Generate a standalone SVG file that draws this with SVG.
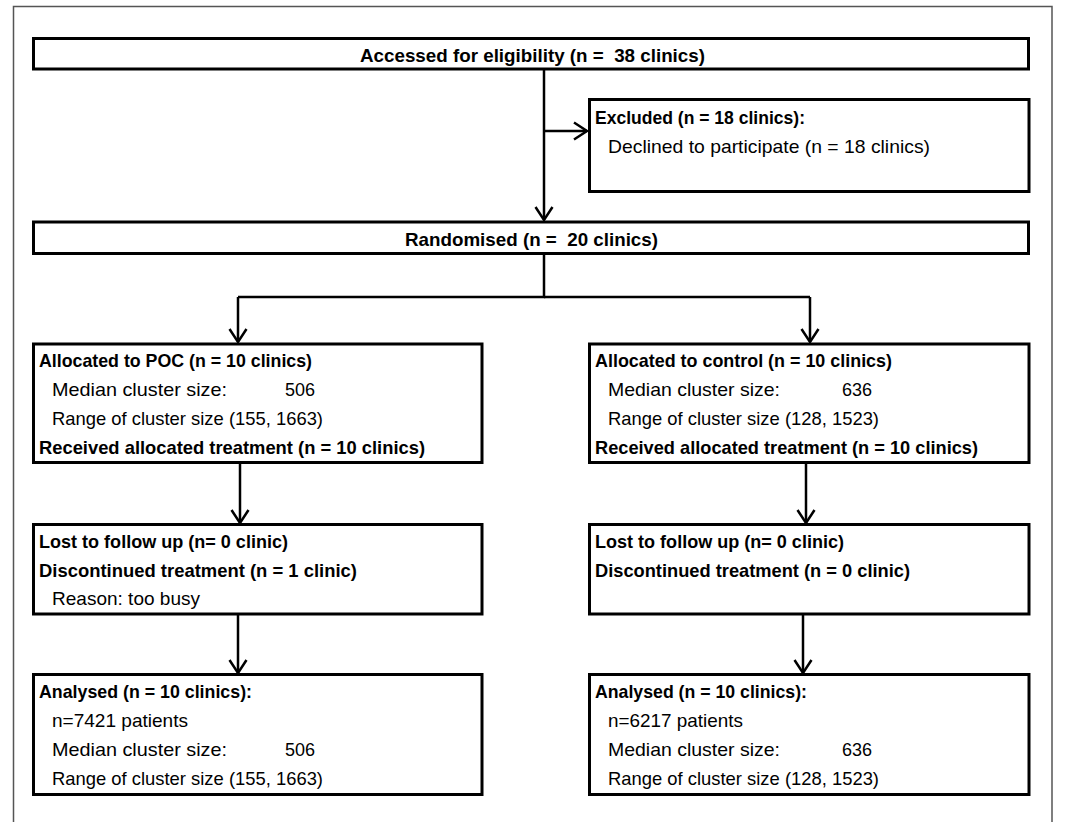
<svg xmlns="http://www.w3.org/2000/svg" width="1084" height="822" viewBox="0 0 1084 822">
<style>
.box{fill:#fff;stroke:#000;stroke-width:3}
.b{font-family:"Liberation Sans",Arial,sans-serif;font-weight:bold;font-size:19px;fill:#000;white-space:pre}
.r{font-family:"Liberation Sans",Arial,sans-serif;font-size:19px;fill:#000;white-space:pre}
.c{fill:none;stroke:#000;stroke-width:2.5}
</style>
<defs>
<marker id="arr" markerUnits="userSpaceOnUse" markerWidth="22" markerHeight="22" viewBox="-15 -11 17 22" refX="0" refY="0" orient="auto">
<path d="M-13,-8.5 L0,0 L-13,8.5" fill="none" stroke="#000" stroke-width="2.5"/>
</marker>
</defs>
<rect x="0" y="0" width="1084" height="822" fill="#fff"/>
<path d="M13.5,830 V6.5 H1052 V830" fill="none" stroke="#555" stroke-width="1.5"/>

<g id="connectors">
<line class="c" x1="544" y1="69" x2="544" y2="220" marker-end="url(#arr)"/>
<line class="c" x1="544" y1="131" x2="587" y2="131" marker-end="url(#arr)"/>
<polyline class="c" points="544,254 544,297 238,297"/>
<line class="c" x1="544" y1="297" x2="810" y2="297"/>
<line class="c" x1="238" y1="297" x2="238" y2="342" marker-end="url(#arr)"/>
<line class="c" x1="810" y1="297" x2="810" y2="342" marker-end="url(#arr)"/>
<line class="c" x1="240" y1="463" x2="240" y2="523" marker-end="url(#arr)"/>
<line class="c" x1="806" y1="463" x2="806" y2="523" marker-end="url(#arr)"/>
<line class="c" x1="238" y1="614" x2="238" y2="673" marker-end="url(#arr)"/>
<line class="c" x1="803" y1="614" x2="803" y2="673" marker-end="url(#arr)"/>
</g>

<g id="assessed">
<rect class="box" x="33.5" y="38.5" width="995" height="30.5"/>
<text class="b" x="360" y="62" textLength="345" lengthAdjust="spacingAndGlyphs">Accessed for eligibility (n =  38 clinics)</text>
</g>

<g id="excluded">
<rect class="box" x="589.5" y="99.5" width="439.5" height="92"/>
<text class="b" x="595" y="124" textLength="210" lengthAdjust="spacingAndGlyphs">Excluded (n = 18 clinics):</text>
<text class="r" x="608" y="153" textLength="322" lengthAdjust="spacingAndGlyphs">Declined to participate (n = 18 clinics)</text>
</g>

<g id="randomised">
<rect class="box" x="33.5" y="222" width="995" height="31.5"/>
<text class="b" x="405" y="246" textLength="253" lengthAdjust="spacingAndGlyphs">Randomised (n =  20 clinics)</text>
</g>

<g id="alloc-poc">
<rect class="box" x="33.5" y="344" width="448.5" height="118.5"/>
<text class="b" x="39" y="367" textLength="273" lengthAdjust="spacingAndGlyphs">Allocated to POC (n = 10 clinics)</text>
<text class="r" x="52" y="396" textLength="175" lengthAdjust="spacingAndGlyphs">Median cluster size:</text>
<text class="r" x="285" y="396" textLength="30" lengthAdjust="spacingAndGlyphs">506</text>
<text class="r" x="52" y="425" textLength="271" lengthAdjust="spacingAndGlyphs">Range of cluster size (155, 1663)</text>
<text class="b" x="39" y="454" textLength="386" lengthAdjust="spacingAndGlyphs">Received allocated treatment (n = 10 clinics)</text>
</g>

<g id="alloc-control">
<rect class="box" x="589.5" y="344" width="439.5" height="118.5"/>
<text class="b" x="595" y="367" textLength="297" lengthAdjust="spacingAndGlyphs">Allocated to control (n = 10 clinics)</text>
<text class="r" x="608" y="396" textLength="172" lengthAdjust="spacingAndGlyphs">Median cluster size:</text>
<text class="r" x="842" y="396" textLength="30" lengthAdjust="spacingAndGlyphs">636</text>
<text class="r" x="608" y="425" textLength="271" lengthAdjust="spacingAndGlyphs">Range of cluster size (128, 1523)</text>
<text class="b" x="595" y="454" textLength="383" lengthAdjust="spacingAndGlyphs">Received allocated treatment (n = 10 clinics)</text>
</g>

<g id="lost-poc">
<rect class="box" x="33.5" y="524.5" width="448.5" height="89.5"/>
<text class="b" x="39" y="548" textLength="249" lengthAdjust="spacingAndGlyphs">Lost to follow up (n= 0 clinic)</text>
<text class="b" x="39" y="577" textLength="318" lengthAdjust="spacingAndGlyphs">Discontinued treatment (n = 1 clinic)</text>
<text class="r" x="52" y="605" textLength="148" lengthAdjust="spacingAndGlyphs">Reason: too busy</text>
</g>

<g id="lost-control">
<rect class="box" x="589.5" y="524.5" width="439.5" height="89.5"/>
<text class="b" x="595" y="548" textLength="249" lengthAdjust="spacingAndGlyphs">Lost to follow up (n= 0 clinic)</text>
<text class="b" x="595" y="577" textLength="315" lengthAdjust="spacingAndGlyphs">Discontinued treatment (n = 0 clinic)</text>
</g>

<g id="analysed-poc">
<rect class="box" x="33.5" y="674.5" width="448.5" height="120"/>
<text class="b" x="39" y="698" textLength="213" lengthAdjust="spacingAndGlyphs">Analysed (n = 10 clinics):</text>
<text class="r" x="52" y="727" textLength="136" lengthAdjust="spacingAndGlyphs">n=7421 patients</text>
<text class="r" x="52" y="756" textLength="175" lengthAdjust="spacingAndGlyphs">Median cluster size:</text>
<text class="r" x="285" y="756" textLength="30" lengthAdjust="spacingAndGlyphs">506</text>
<text class="r" x="52" y="785" textLength="271" lengthAdjust="spacingAndGlyphs">Range of cluster size (155, 1663)</text>
</g>

<g id="analysed-control">
<rect class="box" x="589.5" y="674.5" width="439.5" height="120"/>
<text class="b" x="595" y="698" textLength="212" lengthAdjust="spacingAndGlyphs">Analysed (n = 10 clinics):</text>
<text class="r" x="608" y="727" textLength="135" lengthAdjust="spacingAndGlyphs">n=6217 patients</text>
<text class="r" x="608" y="756" textLength="172" lengthAdjust="spacingAndGlyphs">Median cluster size:</text>
<text class="r" x="842" y="756" textLength="30" lengthAdjust="spacingAndGlyphs">636</text>
<text class="r" x="608" y="785" textLength="271" lengthAdjust="spacingAndGlyphs">Range of cluster size (128, 1523)</text>
</g>
</svg>
